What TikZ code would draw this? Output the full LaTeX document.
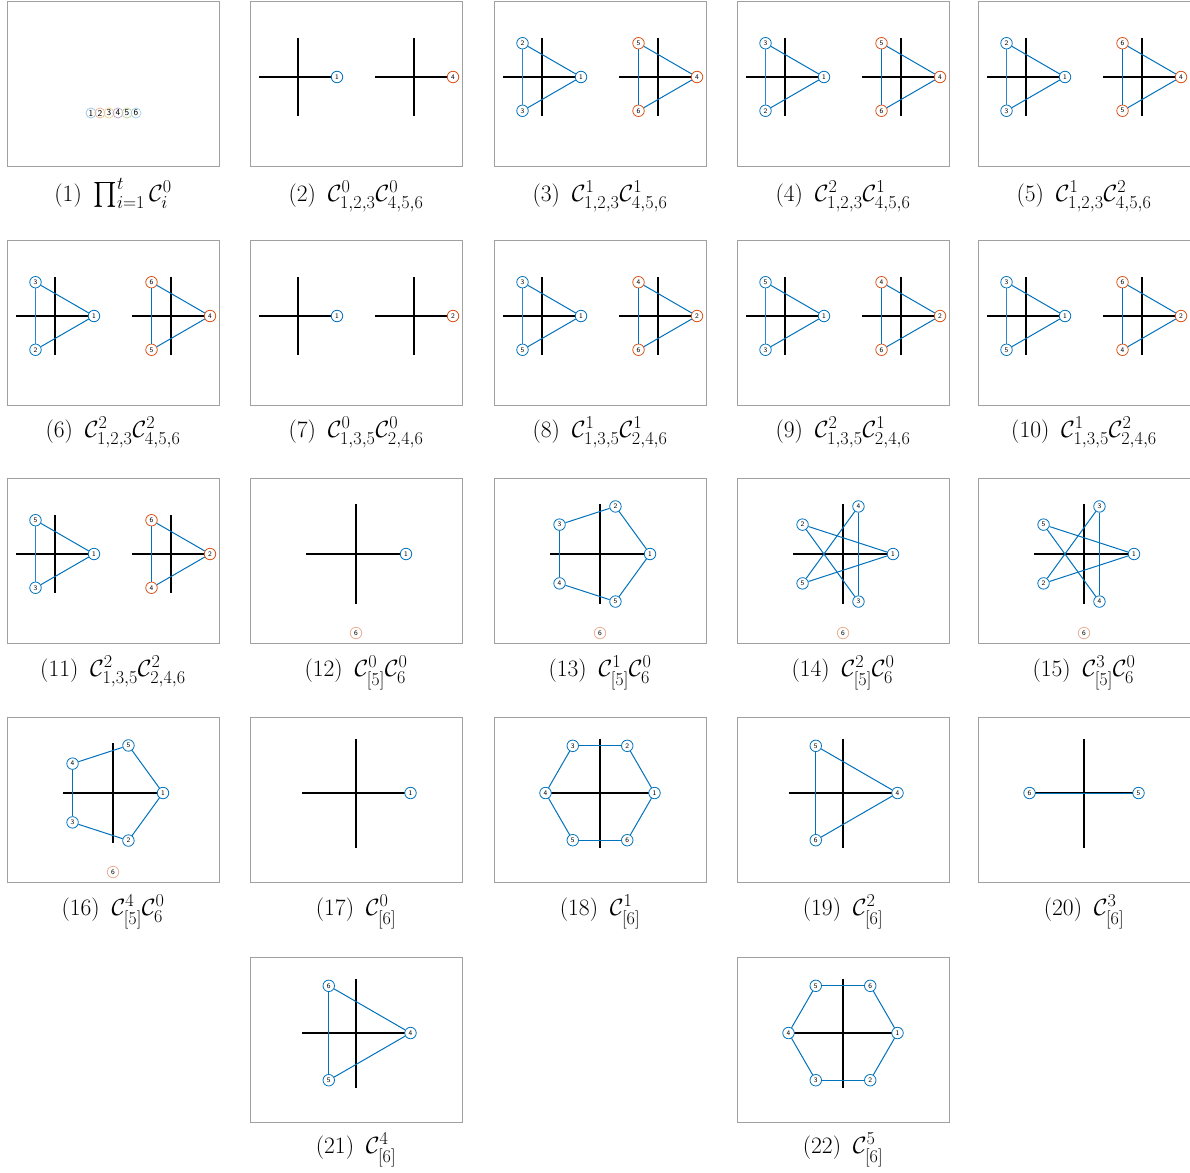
\RequirePackage{fix-cm}
\documentclass[tikz,border=0pt]{standalone}
\usepackage{exscale}
\DeclareMathSizes{23.5}{23.5}{18.2}{14.5}
\definecolor{mblue}{RGB}{0,114,189}
\definecolor{mblueL}{RGB}{40,135,205}
\definecolor{morange}{RGB}{217,83,25}
\definecolor{boxgray}{RGB}{160,160,160}
\definecolor{pblue}{RGB}{150,195,230}
\definecolor{porange}{RGB}{236,175,150}
\definecolor{pyellow}{RGB}{240,210,140}
\definecolor{ppurple}{RGB}{190,160,205}
\definecolor{pgreen}{RGB}{185,215,150}
\definecolor{pcyan}{RGB}{160,210,240}
\tikzset{
  panelbox/.style={draw=boxgray, line width=0.8pt},
  axisline/.style={draw=black, line width=1.1pt},
  edgeline/.style={draw=mblue, line width=1.0pt},
  vthick/.style={draw=mblueL, line width=1.5pt},
  vthin/.style={draw=mblue, line width=0.7pt},
  vnode/.style={circle, draw=#1, fill=white, line width=0.8pt, minimum size=11.5pt, inner sep=0pt,
    font=\sffamily\fontsize{7}{7}\selectfont},
  bnode/.style={vnode=mblue},
  onode/.style={vnode=morange},
  palenode/.style={vnode=porange},
  pnode/.style={circle, draw=#1, line width=0.7pt, minimum size=10pt, inner sep=0pt,
    font=\sffamily\fontsize{9}{9}\selectfont},
  captext/.style={anchor=base, inner sep=0pt, font=\fontsize{23.5}{28}\selectfont},
}
\newcommand\myframe{\draw[panelbox] (0,0) rectangle (212,165);}
\newcommand\mycap[3]{\node[captext] (#1) at (106,#2) {#3};}
\newcommand\mygap{\hskip0.5em}
\newcommand\mycross[3]{\draw[axisline] ({#1-#3},#2) -- ({#1+#3},#2) (#1,{#2-#3}) -- (#1,{#2+#3});}
% prefix, cx, cy, R, right label, top label, bottom label, node style, vertical edge style
\newcommand\mytri[9]{%
  \mycross{#2}{#3}{#4}
  \node[#8] (#1r) at ({#2+#4},#3) {#5};
  \node[#8] (#1t) at ({#2-0.5*#4},{#3-0.866*#4}) {#6};
  \node[#8] (#1b) at ({#2-0.5*#4},{#3+0.866*#4}) {#7};
  \draw[edgeline] (#1t) -- (#1r);
  \draw[edgeline] (#1r) -- (#1b);
  \draw[#9] (#1t) -- (#1b);
}
% prefix, cx, cy, R, labels in angle order, n, step
\newcommand\mypoly[7]{%
  \mycross{#2}{#3}{#4}
  \foreach \lab [count=\k from 0] in {#5} {
    \node[bnode] (#1n\k) at ({#2+#4*cos(\k*360/#6)},{#3-#4*sin(\k*360/#6)}) {\lab};
  }
  \foreach \k in {1,...,#6} {
    \pgfmathtruncatemacro\ka{\k-1}
    \pgfmathtruncatemacro\kb{mod(\k-1+#7,#6)}
    \draw[edgeline] (#1n\ka) -- (#1n\kb);
  }
}
\newcommand\mysingle[6]{% prefix, cx, cy, R, label, style
  \mycross{#2}{#3}{#4}
  \node[#6] (#1) at ({#2+#4},#3) {#5};
}
\begin{document}
\begin{tikzpicture}[x=1pt,y=-1pt]
\useasboundingbox (0,0) rectangle (1190,1172);
\fill[white] (0,0) rectangle (1190,1172);
% ---------- Row 1 ----------
\begin{scope}[shift={(7,1)}]
  \myframe
  \foreach \i/\c in {1/pblue,2/porange,3/pyellow,4/ppurple,5/pgreen,6/pcyan}
    \node[pnode=\c] (pa\i) at ({84+9*(\i-1)},112) {\i};
  \mycap{c1}{200}{(1)\mygap$\prod_{i=1}^{t}\mathcal{C}_i^{0}$}
\end{scope}
\begin{scope}[shift={(250,1)}]
  \myframe
  \mysingle{pbl}{48}{76}{39}{1}{bnode}
  \mysingle{pbr}{164}{76}{39}{4}{onode}
  \mycap{c2}{200}{(2)\mygap$\mathcal{C}^0_{1,2,3}\mathcal{C}^0_{4,5,6}$}
\end{scope}
\begin{scope}[shift={(494,1)}]
  \myframe
  \mytri{pcl}{48}{76}{39}{1}{2}{3}{bnode}{vthick}
  \mytri{pcr}{164}{76}{39}{4}{5}{6}{onode}{vthin}
  \mycap{c3}{200}{(3)\mygap$\mathcal{C}^1_{1,2,3}\mathcal{C}^1_{4,5,6}$}
\end{scope}
\begin{scope}[shift={(737,1)}]
  \myframe
  \mytri{pdl}{48}{76}{39}{1}{3}{2}{bnode}{vthick}
  \mytri{pdr}{164}{76}{39}{4}{5}{6}{onode}{vthin}
  \mycap{c4}{200}{(4)\mygap$\mathcal{C}^2_{1,2,3}\mathcal{C}^1_{4,5,6}$}
\end{scope}
\begin{scope}[shift={(978,1)}]
  \myframe
  \mytri{pel}{48}{76}{39}{1}{2}{3}{bnode}{vthick}
  \mytri{per}{164}{76}{39}{4}{6}{5}{onode}{vthin}
  \mycap{c5}{200}{(5)\mygap$\mathcal{C}^1_{1,2,3}\mathcal{C}^2_{4,5,6}$}
\end{scope}
% ---------- Row 2 ----------
\begin{scope}[shift={(7,240)}]
  \myframe
  \mytri{pfl}{48}{76}{39}{1}{3}{2}{bnode}{vthick}
  \mytri{pfr}{164}{76}{39}{4}{6}{5}{onode}{vthin}
  \mycap{c6}{197}{(6)\mygap$\mathcal{C}^2_{1,2,3}\mathcal{C}^2_{4,5,6}$}
\end{scope}
\begin{scope}[shift={(250,240)}]
  \myframe
  \mysingle{pgl}{48}{76}{39}{1}{bnode}
  \mysingle{pgr}{164}{76}{39}{2}{onode}
  \mycap{c7}{197}{(7)\mygap$\mathcal{C}^0_{1,3,5}\mathcal{C}^0_{2,4,6}$}
\end{scope}
\begin{scope}[shift={(494,240)}]
  \myframe
  \mytri{phl}{48}{76}{39}{1}{3}{5}{bnode}{vthick}
  \mytri{phr}{164}{76}{39}{2}{4}{6}{onode}{vthin}
  \mycap{c8}{197}{(8)\mygap$\mathcal{C}^1_{1,3,5}\mathcal{C}^1_{2,4,6}$}
\end{scope}
\begin{scope}[shift={(737,240)}]
  \myframe
  \mytri{pil}{48}{76}{39}{1}{5}{3}{bnode}{vthick}
  \mytri{pir}{164}{76}{39}{2}{4}{6}{onode}{vthin}
  \mycap{c9}{197}{(9)\mygap$\mathcal{C}^2_{1,3,5}\mathcal{C}^1_{2,4,6}$}
\end{scope}
\begin{scope}[shift={(978,240)}]
  \myframe
  \mytri{pjl}{48}{76}{39}{1}{3}{5}{bnode}{vthick}
  \mytri{pjr}{164}{76}{39}{2}{6}{4}{onode}{vthin}
  \mycap{c10}{197}{(10)\mygap$\mathcal{C}^1_{1,3,5}\mathcal{C}^2_{2,4,6}$}
\end{scope}
% ---------- Row 3 ----------
\begin{scope}[shift={(7,478)}]
  \myframe
  \mytri{pkl}{48}{76}{39}{1}{5}{3}{bnode}{vthick}
  \mytri{pkr}{164}{76}{39}{2}{6}{4}{onode}{vthin}
  \mycap{c11}{198}{(11)\mygap$\mathcal{C}^2_{1,3,5}\mathcal{C}^2_{2,4,6}$}
\end{scope}
\begin{scope}[shift={(250,478)}]
  \myframe
  \mysingle{pl}{106}{76}{50}{1}{bnode}
  \node[palenode] (pl6) at (106,155) {6};
  \mycap{c12}{198}{(12)\mygap$\mathcal{C}^0_{[5]}\mathcal{C}^0_{6}$}
\end{scope}
\begin{scope}[shift={(494,478)}]
  \myframe
  \mypoly{pm}{106}{76}{50}{1,2,3,4,5}{5}{1}
  \node[palenode] (pm6) at (106,155) {6};
  \mycap{c13}{198}{(13)\mygap$\mathcal{C}^1_{[5]}\mathcal{C}^0_{6}$}
\end{scope}
\begin{scope}[shift={(737,478)}]
  \myframe
  \mypoly{pn}{106}{76}{50}{1,4,2,5,3}{5}{2}
  \node[palenode] (pn6) at (106,155) {6};
  \mycap{c14}{198}{(14)\mygap$\mathcal{C}^2_{[5]}\mathcal{C}^0_{6}$}
\end{scope}
\begin{scope}[shift={(978,478)}]
  \myframe
  \mypoly{po}{106}{76}{50}{1,3,5,2,4}{5}{2}
  \node[palenode] (po6) at (106,155) {6};
  \mycap{c15}{198}{(15)\mygap$\mathcal{C}^3_{[5]}\mathcal{C}^0_{6}$}
\end{scope}
% ---------- Row 4 ----------
\begin{scope}[shift={(7,717)}]
  \myframe
  \mypoly{pp}{106}{76}{50}{1,5,4,3,2}{5}{1}
  \node[palenode] (pp6) at (106,155) {6};
  \mycap{c16}{198}{(16)\mygap$\mathcal{C}^4_{[5]}\mathcal{C}^0_{6}$}
\end{scope}
\begin{scope}[shift={(250,717)}]
  \myframe
  \mysingle{pq}{106}{76}{54.5}{1}{bnode}
  \mycap{c17}{198}{(17)\mygap$\mathcal{C}^0_{[6]}$}
\end{scope}
\begin{scope}[shift={(494,717)}]
  \myframe
  \mypoly{pr}{106}{76}{54.5}{1,2,3,4,5,6}{6}{1}
  \mycap{c18}{198}{(18)\mygap$\mathcal{C}^1_{[6]}$}
\end{scope}
\begin{scope}[shift={(737,717)}]
  \myframe
  \mypoly{ps}{106}{76}{54.5}{4,5,6}{3}{1}
  \mycap{c19}{198}{(19)\mygap$\mathcal{C}^2_{[6]}$}
\end{scope}
\begin{scope}[shift={(978,717)}]
  \myframe
  \mypoly{pt}{106}{76}{54.5}{5,6}{2}{1}
  \mycap{c20}{198}{(20)\mygap$\mathcal{C}^3_{[6]}$}
\end{scope}
% ---------- Row 5 ----------
\begin{scope}[shift={(250,957)}]
  \myframe
  \mypoly{pu}{106}{76}{54.5}{4,6,5}{3}{1}
  \mycap{c21}{196}{(21)\mygap$\mathcal{C}^4_{[6]}$}
\end{scope}
\begin{scope}[shift={(737,957)}]
  \myframe
  \mypoly{pv}{106}{76}{54.5}{1,6,5,4,3,2}{6}{1}
  \mycap{c22}{196}{(22)\mygap$\mathcal{C}^5_{[6]}$}
\end{scope}
\end{tikzpicture}
\end{document}
